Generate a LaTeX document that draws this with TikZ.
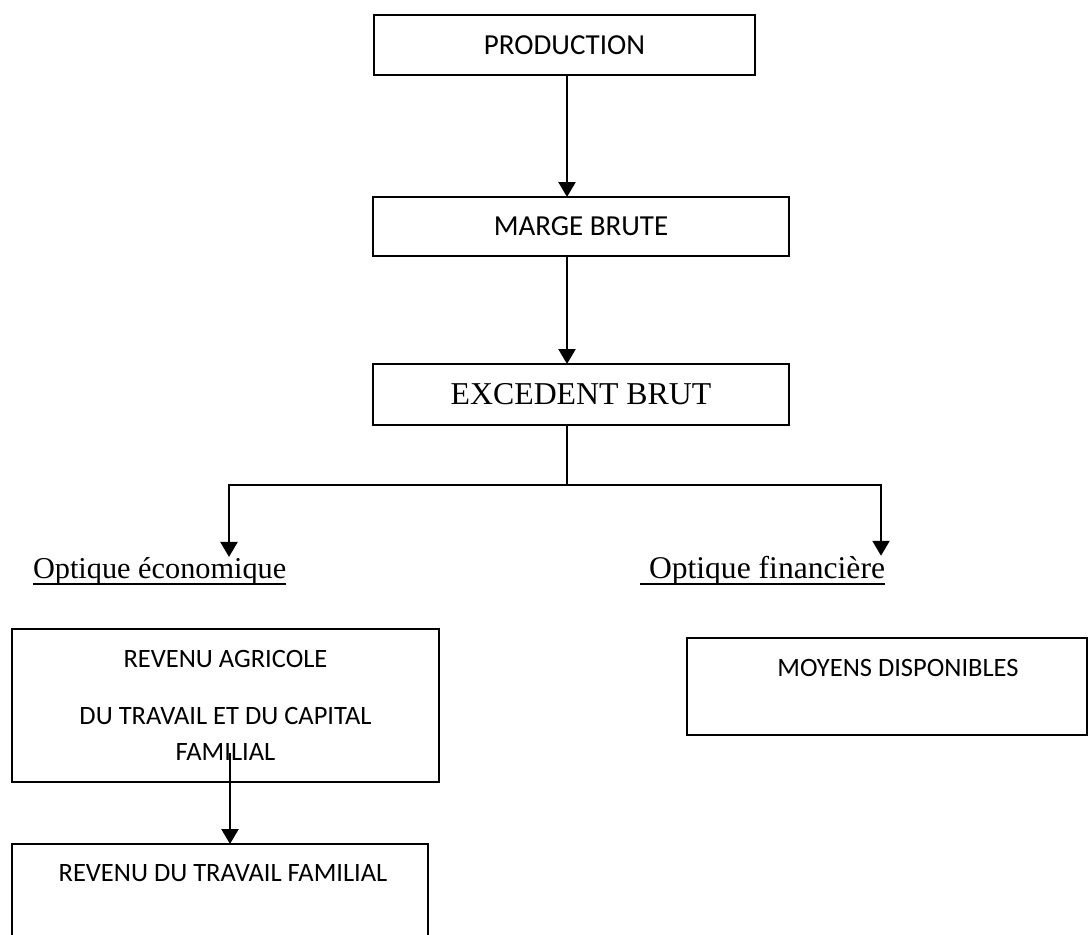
\documentclass[tikz,border=0pt]{standalone}
\usepackage{fontspec}
\setmainfont{Liberation Serif}
\newfontfamily\carl{Carlito}
\usetikzlibrary{arrows.meta}
\begin{document}
\begin{tikzpicture}[x=1pt,y=-1pt,
  box/.style={draw, line width=2.8pt, inner sep=0pt, outer sep=0pt,
    font=\carl\fontsize{26.5}{36}\selectfont, align=center, anchor=north west},
  bigbox/.style={box, font=\carl\fontsize{29}{36}\selectfont},
  serifbox/.style={box, font=\fontsize{31.8}{36}\selectfont},
  arr/.style={line width=2.4pt, -{Triangle[width=17pt,length=15pt]}},
  conn/.style={line width=2.4pt},
  lab/.style={font=\fontsize{30.3}{36}\selectfont, inner sep=0pt, outer sep=0pt, anchor=base west},
  ul/.style={line width=1.8pt}]
\clip (0,0) rectangle (1089,934);
\fill[white] (0,0) rectangle (1089,934);

\node[bigbox, minimum width=381pt, minimum height=60pt] (prod) at (374,15) {PRODUCTION};
\node[bigbox, minimum width=416pt, minimum height=59pt] (marge) at (373,197) {MARGE BRUTE};
\node[serifbox, minimum width=416pt, minimum height=61pt] (exc) at (373,364) {EXCEDENT BRUT};

\node[lab] (oe) at (33,578) {Optique économique};
\node[lab, font=\fontsize{31.6}{36}\selectfont] (of) at (649,578) {Optique financière};
\draw[ul] ([yshift=-6pt]oe.base west) -- ([yshift=-6pt]oe.base east);
\draw[ul] ([xshift=-9pt,yshift=-6pt]of.base west) -- ([yshift=-6pt]of.base east);

\node[box, minimum width=427pt, minimum height=153pt] (ra) at (12,629)
  {REVENU AGRICOLE\\[21pt]DU TRAVAIL ET DU CAPITAL\\FAMILIAL};
\node[box, minimum width=400pt, minimum height=97pt, text height=38pt, text depth=59pt] (md) at (687,638)
  {\hspace*{22pt}MOYENS DISPONIBLES};
\node[box, minimum width=416pt, text height=37pt, text depth=120pt] (rtf) at (12,844)
  {\hspace*{6pt}REVENU DU TRAVAIL FAMILIAL};

\coordinate (spine) at (567,0);
\coordinate (lsplit) at (229,485);
\coordinate (rsplit) at (881,485);
\coordinate (rastart) at (230,753);

\draw[arr] (prod.south -| spine) -- (marge.north -| spine);
\draw[arr] (marge.south -| spine) -- (exc.north -| spine);
\draw[conn] (exc.south -| spine) -- (spine |- lsplit);
\draw[arr] (spine |- lsplit) -| (oe.north -| lsplit);
\draw[arr] (spine |- rsplit) -| (of.north -| rsplit);
\draw[arr] (rastart) -- (rastart |- rtf.north);
\end{tikzpicture}
\end{document}
